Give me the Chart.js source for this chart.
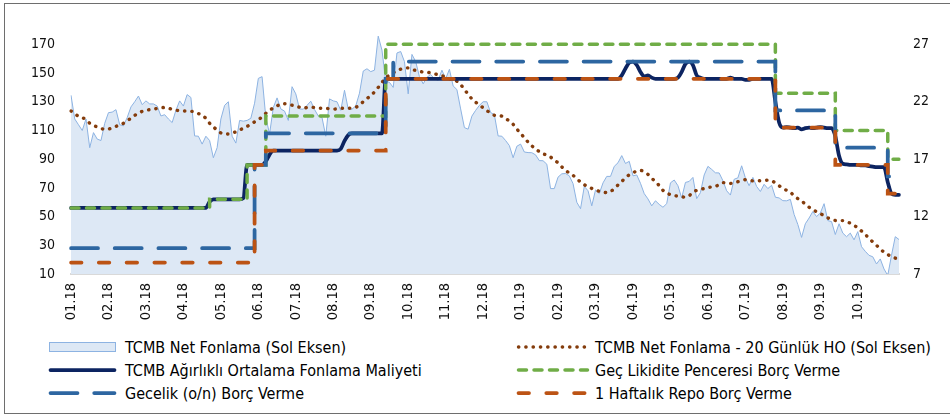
<!DOCTYPE html>
<html><head><meta charset="utf-8">
<script src="https://cdn.jsdelivr.net/npm/chart.js@4.4.1/dist/chart.umd.min.js"></script>
<style>
html,body{margin:0;padding:0;background:#fff;overflow:hidden;}
#wrap{position:relative;width:950px;height:418px;overflow:hidden;font-family:"DejaVu Sans Condensed","DejaVu Sans",sans-serif;}
#frame{position:absolute;left:4px;top:3px;width:970px;height:411px;border:1px solid #6e6e6e;box-sizing:border-box;}
#c{position:absolute;left:0;top:0;}
.item{position:absolute;display:flex;align-items:center;height:22px;font-size:16px;color:#000;white-space:nowrap;}
.item svg{display:block;}
</style></head>
<body>
<div id="wrap">
  <div id="frame"></div>
  <canvas id="c" width="950" height="330"></canvas>
  <div id="legend"></div>
</div>
<script>
// ---- tick labels ----
const tickLabels = ['01.18','02.18','03.18','04.18','05.18','06.18','07.18','08.18','09.18','10.18','11.18','12.18',
  '01.19','02.19','03.19','04.19','05.19','06.19','07.19','08.19','09.19','10.19'];
const leftTicks = [10,30,50,70,90,110,130,150,170];
const rightTicks = [7,12,17,22,27];

// ---- series (left axis) ----
const netFonlama = [134.5,118,114,110,118,98,108.5,104,103,115,
122.4,122.8,124.5,114,113.2,119,126.4,130,134,128,
130.6,128.5,128.5,127,120.1,121,118,115.5,124,130.6,
127,135,133,106.2,106,100.5,106,103,91,98,
118,127.5,130,106,101.2,117,116.5,117,118.5,129,
146.3,147.5,119,107.6,126,132.7,125,123.5,117,140.5,
135.5,125,124.8,127.5,130.4,124.6,120.1,119,106,132,
130.6,130,124,138,124.8,124.8,127.1,136,151.4,153,
151,152,175.7,166,144.5,143.5,140,164,165,158,
135.5,163,158,147.5,142.5,147,149,146,145,152,
146,152.6,141,138.5,125,112,110.9,120,124,127.5,
130,130,122.5,121,106.2,106,103,99.5,91,99,
100.5,95,94.6,94.5,93,89,88.9,86.5,69.5,69.5,
77.5,79.8,80,78.4,73,60,55.5,71,68,57.5,
68.6,66,73.5,78,78,85,87.5,92.5,87,88.5,
78.4,79,73.2,66,62.3,57.5,61,58.5,56.5,59,
73.5,75.5,71.5,63,73.8,74.5,77.3,62.5,66.7,79,
85,82.9,80.5,80.4,75,68,65,76,77,85.4,
77,71.5,77.3,71,67.5,72.5,69.5,71.8,63.5,63,
61.1,61,62,51.5,44.5,35.5,45,49,53.5,50,
52.5,59,47.2,46.5,37.5,45,38.5,36,38.5,33.8,
39.5,29,25.8,23,22,17,20.5,13.5,9,23,
36,34];

const netFonlamaHO = [123.6,121.5,120,119,117.5,115,113.5,112.5,111.5,110.7,
111,111.8,112.8,114,115,116.8,118.5,120.5,122,123.3,
124,124.5,124.9,125.3,125.8,126,125.5,124.8,124.2,123.7,
123.6,123.6,123.4,123,121.8,120.3,118.5,115,112.5,110.3,
108.3,107.5,107.6,108.4,109,110.3,111.5,112.8,114.5,116,
117.5,119.5,122,124,125.7,127,128.6,128.6,128.3,127.6,
127,126.2,125.5,126,126.3,125.9,125.5,125.5,125.4,125.1,
124.8,125.1,125.5,125.5,125.5,125.7,126.2,127.5,130.1,132.2,
134.3,136.8,140,143.4,146.7,148.5,150.2,151.5,152.7,153.3,
153.6,152.6,151.8,151.2,150.7,150.5,150.2,149.5,148.8,148.1,
147.2,146,145.2,144.3,142,138.5,135.3,132,129.7,127.8,
125.8,123.9,122,120.6,120.3,120,118.3,116.6,114.3,111,
108,104.9,101.9,99.3,97,95.3,93.7,92.9,91.5,89.2,
87.5,84.6,82.3,80.3,78.7,76.4,74.1,72.2,70.8,69.6,
68.6,67.6,67.1,66.7,67.4,69.5,72,74.5,77,79.1,
80.6,81.6,82.2,81.2,79.4,76.8,74.2,71.6,68.3,66.6,
65.2,64.7,64.2,63.8,63.5,64.5,67.2,68.2,68.9,69.6,
70.3,70.6,71,72.3,73.7,73.5,73.1,73.7,74.3,75,
75.7,75.3,74.9,74.9,75,75.2,75.4,74.9,73.5,71.5,
69.6,68.3,67,64.4,62.5,60.9,58.6,56.5,54.8,53.4,
52.1,50.6,49.1,48.1,47.3,47.2,47.2,46.3,45.4,43.8,
42.2,39.9,37.6,34.8,32.4,30,27.4,25.2,23.5,22.3,
21.1,20.5];

// ---- series (right axis, %) ----
const fonlamaMaliyeti = [12.75,12.75,12.75,12.75,12.75,12.75,12.75,12.75,12.75,12.75,
12.75,12.75,12.75,12.75,12.75,12.75,12.75,12.75,12.75,12.75,
12.75,12.75,12.75,12.75,12.75,12.75,12.75,12.75,12.75,12.75,
12.75,12.75,12.75,12.75,12.75,12.75,12.75,13.3,13.5,13.5,
13.5,13.5,13.5,13.5,13.5,13.5,13.6,16.5,16.5,16.5,
16.5,16.5,16.8,17.4,17.75,17.75,17.75,17.75,17.75,17.75,
17.75,17.75,17.75,17.75,17.75,17.75,17.75,17.75,17.75,17.75,
17.75,17.75,17.9,18.6,19.1,19.25,19.25,19.25,19.25,19.25,
19.25,19.25,19.25,19.25,24,24,24,24,24,24,
24,24,24,24,24,24,24,24,24,24,
24,24,24,24,24,24,24,24,24,24,
24,24,24,24,24,24,24,24,24,24,
24,24,24,24,24,24,24,24,24,24,
24,24,24,24,24,24,24,24,24,24,
24,24,24,24,24,24,24,24.3,24.9,25.4,
25.5,25.2,24.6,24.2,24.3,24.1,24,24,24,24,
24,24,24.1,24.6,25.3,25.5,25.2,24.3,24.1,24,
24,24,24,24,24,24,24.1,24,24,24,
23.9,23.9,24,24,24,24,24,24,22,20.2,
19.75,19.8,19.75,19.7,19.75,19.6,19.7,19.75,19.7,19.75,
19.8,19.75,19.7,19.7,19,17.3,16.6,16.55,16.5,16.5,
16.5,16.45,16.45,16.4,16.35,16.3,16.3,16.3,15,14,
13.9,13.9];

const gecLikidite = [12.75,12.75,12.75,12.75,12.75,12.75,12.75,12.75,12.75,12.75,
12.75,12.75,12.75,12.75,12.75,12.75,12.75,12.75,12.75,12.75,
12.75,12.75,12.75,12.75,12.75,12.75,12.75,12.75,12.75,12.75,
12.75,12.75,12.75,12.75,12.75,12.75,12.75,13.5,13.5,13.5,
13.5,13.5,13.5,13.5,13.5,13.5,13.5,16.5,16.5,16.5,
16.5,16.5,20.75,20.75,20.75,20.75,20.75,20.75,20.75,20.75,
20.75,20.75,20.75,20.75,20.75,20.75,20.75,20.75,20.75,20.75,
20.75,20.75,20.75,20.75,20.75,20.75,20.75,20.75,20.75,20.75,
20.75,20.75,20.75,20.75,27,27,27,27,27,27,
27,27,27,27,27,27,27,27,27,27,
27,27,27,27,27,27,27,27,27,27,
27,27,27,27,27,27,27,27,27,27,
27,27,27,27,27,27,27,27,27,27,
27,27,27,27,27,27,27,27,27,27,
27,27,27,27,27,27,27,27,27,27,
27,27,27,27,27,27,27,27,27,27,
27,27,27,27,27,27,27,27,27,27,
27,27,27,27,27,27,27,27,27,27,
27,27,27,27,27,27,27,27,22.75,22.75,
22.75,22.75,22.75,22.75,22.75,22.75,22.75,22.75,22.75,22.75,
22.75,22.75,22.75,22.75,19.5,19.5,19.5,19.5,19.5,19.5,
19.5,19.5,19.5,19.5,19.5,19.5,19.5,19.5,17,17,
17,17];

const gecelik = [9.25,9.25,9.25,9.25,9.25,9.25,9.25,9.25,9.25,9.25,
9.25,9.25,9.25,9.25,9.25,9.25,9.25,9.25,9.25,9.25,
9.25,9.25,9.25,9.25,9.25,9.25,9.25,9.25,9.25,9.25,
9.25,9.25,9.25,9.25,9.25,9.25,9.25,9.25,9.25,9.25,
9.25,9.25,9.25,9.25,9.25,9.25,9.25,9.25,9.25,16.5,
16.5,16.5,19.25,19.25,19.25,19.25,19.25,19.25,19.25,19.25,
19.25,19.25,19.25,19.25,19.25,19.25,19.25,19.25,19.25,19.25,
19.25,19.25,19.25,19.25,19.25,19.25,19.25,19.25,19.25,19.25,
19.25,19.25,19.25,19.25,24,24,25.5,25.5,25.5,25.5,
25.5,25.5,25.5,25.5,25.5,25.5,25.5,25.5,25.5,25.5,
25.5,25.5,25.5,25.5,25.5,25.5,25.5,25.5,25.5,25.5,
25.5,25.5,25.5,25.5,25.5,25.5,25.5,25.5,25.5,25.5,
25.5,25.5,25.5,25.5,25.5,25.5,25.5,25.5,25.5,25.5,
25.5,25.5,25.5,25.5,25.5,25.5,25.5,25.5,25.5,25.5,
25.5,25.5,25.5,25.5,25.5,25.5,25.5,25.5,25.5,25.5,
25.5,25.5,25.5,25.5,25.5,25.5,25.5,25.5,25.5,25.5,
25.5,25.5,25.5,25.5,25.5,25.5,25.5,25.5,25.5,25.5,
25.5,25.5,25.5,25.5,25.5,25.5,25.5,25.5,25.5,25.5,
25.5,25.5,25.5,25.5,25.5,25.5,25.5,25.5,21.25,21.25,
21.25,21.25,21.25,21.25,21.25,21.25,21.25,21.25,21.25,21.25,
21.25,21.25,21.25,21.25,18,18,18,18,18,18,
18,18,18,18,18,18,18,18,15.5,15.5,
15.5,15.5];

const haftalikRepo = [8,8,8,8,8,8,8,8,8,8,
8,8,8,8,8,8,8,8,8,8,
8,8,8,8,8,8,8,8,8,8,
8,8,8,8,8,8,8,8,8,8,
8,8,8,8,8,8,8,8,8,16.5,
16.5,16.5,17.75,17.75,17.75,17.75,17.75,17.75,17.75,17.75,
17.75,17.75,17.75,17.75,17.75,17.75,17.75,17.75,17.75,17.75,
17.75,17.75,17.75,17.75,17.75,17.75,17.75,17.75,17.75,17.75,
17.75,17.75,17.75,17.75,24,24,24,24,24,24,
24,24,24,24,24,24,24,24,24,24,
24,24,24,24,24,24,24,24,24,24,
24,24,24,24,24,24,24,24,24,24,
24,24,24,24,24,24,24,24,24,24,
24,24,24,24,24,24,24,24,24,24,
24,24,24,24,24,24,24,24,24,24,
24,24,24,24,24,24,24,24,24,24,
24,24,24,24,24,24,24,24,24,24,
24,24,24,24,24,24,24,24,24,24,
24,24,24,24,24,24,24,24,19.75,19.75,
19.75,19.75,19.75,19.75,19.75,19.75,19.75,19.75,19.75,19.75,
19.75,19.75,19.75,19.75,16.5,16.5,16.5,16.5,16.5,16.5,
16.5,16.5,16.5,16.5,16.5,16.5,16.5,16.5,14,14,
14,14];

// category labels: one per data point, month label every 10th point
const labels = netFonlama.map((_, i) => (i % 10 === 0 && tickLabels[i / 10]) ? tickLabels[i / 10] : '');

const FONT = '"DejaVu Sans Condensed","DejaVu Sans",sans-serif';

const datasets = [
  { label: '1 Haftalık Repo Borç Verme', data: haftalikRepo, yAxisID: 'yR', order: 1,
    borderColor: '#BC5314', borderWidth: 3.75, borderDash: [10.5, 17.3], borderCapStyle: 'round', stepped: true, fill: false,
    legend: { col: 1, row: 2 } },
  { label: 'Gecelik (o/n) Borç Verme', data: gecelik, yAxisID: 'yR', order: 2,
    borderColor: '#2D66A1', borderWidth: 3.75, borderDash: [27, 16.7], borderCapStyle: 'round', stepped: true, fill: false,
    legend: { col: 0, row: 2 } },
  { label: 'Geç Likidite Penceresi Borç Verme', data: gecLikidite, yAxisID: 'yR', order: 3,
    borderColor: '#70AD47', borderWidth: 3.5, borderDash: [8, 7.5], borderCapStyle: 'round', stepped: true, fill: false,
    legend: { col: 1, row: 1 } },
  { label: 'TCMB Ağırlıklı Ortalama Fonlama Maliyeti', data: fonlamaMaliyeti, yAxisID: 'yR', order: 4,
    borderColor: '#0C2461', borderWidth: 3.75, cubicInterpolationMode: 'monotone', borderCapStyle: 'round', borderJoinStyle: 'round', fill: false,
    legend: { col: 0, row: 1 } },
  { label: 'TCMB Net Fonlama - 20 Günlük HO (Sol Eksen)', data: netFonlamaHO, yAxisID: 'yL', order: 5,
    borderColor: '#843C0C', borderWidth: 3.4, borderDash: [0.3, 7.0], borderCapStyle: 'round', cubicInterpolationMode: 'monotone', fill: false,
    legend: { col: 1, row: 0 } },
  { label: 'TCMB Net Fonlama (Sol Eksen)', data: netFonlama, yAxisID: 'yL', order: 6,
    borderColor: '#8DB3E2', borderWidth: 1, backgroundColor: '#DDE8F5', fill: 'start', tension: 0,
    legend: { col: 0, row: 0, area: true } }
];

const tickFont = { family: FONT, size: 14 };
const xTickFont = { family: FONT, size: 14.5 };

new Chart(document.getElementById('c').getContext('2d'), {
  type: 'line',
  data: { labels, datasets },
  options: {
    responsive: false, animation: false, devicePixelRatio: 1,
    layout: { padding: { top: 30, left: 0, right: 0, bottom: 0 } },
    plugins: { legend: { display: false }, tooltip: { enabled: false } },
    elements: { point: { radius: 0, hoverRadius: 0 } },
    scales: {
      x: {
        type: 'category', offset: false,
        grid: { display: false, drawTicks: false },
        border: { display: true, color: '#D9D9D9', width: 2 },
        ticks: { autoSkip: false, maxRotation: 90, minRotation: 90, padding: 9, color: '#111', font: xTickFont,
          callback: (v, i) => labels[i] ? labels[i] : null },
        afterFit: s => { s.height = 56; }
      },
      yL: {
        position: 'left', min: 10, max: 180,
        grid: { display: false, drawTicks: false }, border: { display: false },
        ticks: { padding: 16, color: '#111', font: tickFont },
        afterBuildTicks: s => { s.ticks = leftTicks.map(v => ({ value: v })); },
        afterFit: s => { s.width = 71; }
      },
      yR: {
        position: 'right', min: 7, max: 28.25,
        grid: { display: false, drawTicks: false }, border: { display: false },
        ticks: { padding: 14, color: '#111', font: tickFont },
        afterBuildTicks: s => { s.ticks = rightTicks.map(v => ({ value: v })); },
        afterFit: s => { s.width = 51; }
      }
    }
  }
});

// ---- HTML legend built from the datasets ----
(function buildLegend() {
  const host = document.getElementById('legend');
  const cols = [{ x: 48, w: 69, gap: 8 }, { x: 516, w: 74, gap: 5 }];
  const rowsY = [336, 359, 382];
  datasets.forEach(ds => {
    const L = ds.legend, c = cols[L.col];
    const div = document.createElement('div');
    div.className = 'item';
    div.style.left = c.x + 'px';
    div.style.top = rowsY[L.row] + 'px';
    let svg;
    if (L.area) {
      svg = `<svg width="${c.w}" height="22"><rect x="1.5" y="6.5" width="${c.w - 3}" height="9" fill="${ds.backgroundColor}" stroke="${ds.borderColor}" stroke-width="1"/></svg>`;
    } else {
      const dash = ds.borderDash ? `stroke-dasharray="${ds.borderDash.join(' ')}"` : '';
      svg = `<svg width="${c.w}" height="22"><line x1="2.5" y1="11" x2="${c.w - 2.5}" y2="11" stroke="${ds.borderColor}" stroke-width="${ds.borderWidth}" stroke-linecap="round" ${dash}/></svg>`;
    }
    div.innerHTML = svg + `<span style="margin-left:${c.gap}px">${ds.label}</span>`;
    host.appendChild(div);
  });
})();
</script>
</body></html>
